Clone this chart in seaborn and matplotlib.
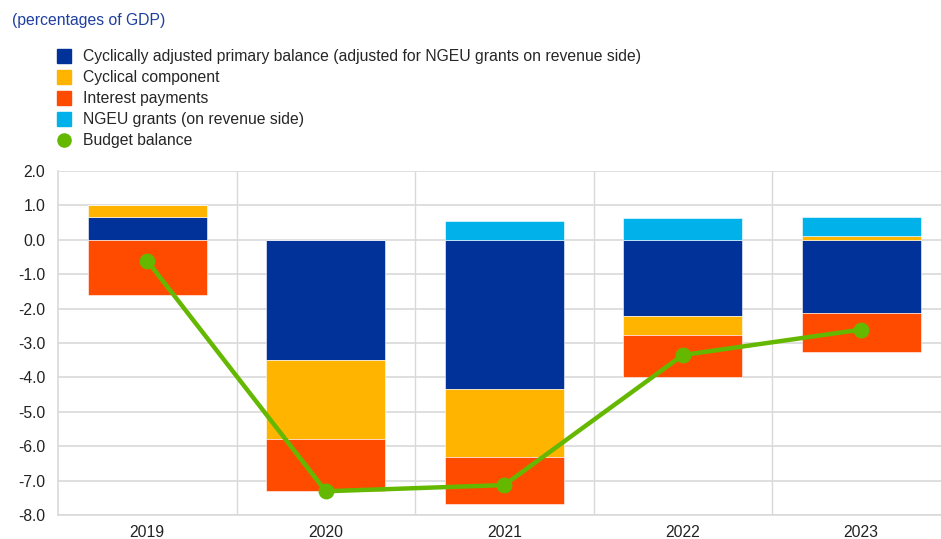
import numpy as np
import pandas as pd
import matplotlib
matplotlib.use("Agg")
import matplotlib.pyplot as plt
from matplotlib.lines import Line2D
import seaborn as sns

years = ["2019", "2020", "2021", "2022", "2023"]
cyc_adj_primary = [0.65, -3.49, -4.35, -2.22, -2.12]
cyclical = [0.36, -2.30, -1.95, -0.55, 0.11]
interest = [-1.61, -1.52, -1.37, -1.22, -1.15]
ngeu = [0.0, 0.0, 0.56, 0.64, 0.56]
budget_balance = [-0.61, -7.31, -7.13, -3.35, -2.61]

series_names = [
    "Cyclically adjusted primary balance (adjusted for NGEU grants on revenue side)",
    "Cyclical component",
    "Interest payments",
    "NGEU grants (on revenue side)",
]
series_vals = [cyc_adj_primary, cyclical, interest, ngeu]
colors = ["#003299", "#FFB400", "#FF4B00", "#00B1EA"]
green = "#65B800"

sns.set_theme(style="white")
plt.rcParams["font.family"] = ["Liberation Sans", "DejaVu Sans"]
plt.rcParams["axes.unicode_minus"] = False

FS = 11.3

fig = plt.figure(figsize=(9.41, 5.39), dpi=100)
ax = fig.add_axes([58 / 941, 1 - 515 / 539, 892.5 / 941, 344 / 539])

pos_base = np.zeros(len(years))
neg_base = np.zeros(len(years))
for name, vals, col in zip(series_names, series_vals, colors):
    v = np.array(vals, dtype=float)
    bottoms = np.where(v >= 0, pos_base, neg_base)
    df = pd.DataFrame({"year": years, "value": v})
    sns.barplot(data=df, x="year", y="value", order=years, bottom=bottoms,
                color=col, saturation=1, width=0.667, errorbar=None,
                edgecolor="white", linewidth=0.4, ax=ax, zorder=2)
    pos_base = pos_base + np.where(v >= 0, v, 0)
    neg_base = neg_base + np.where(v < 0, v, 0)

dfb = pd.DataFrame({"year": years, "value": budget_balance})
sns.pointplot(data=dfb, x="year", y="value", order=years, color=green,
              errorbar=None, markers="o", markersize=9, linewidth=3.2,
              ax=ax, zorder=5)

ax.set_xlim(-0.5, 4.5)
ax.set_ylim(-8.0, 2.0)
ax.set_yticks(np.arange(-8, 2.01, 1.0))
ax.set_yticklabels([f"{t:.1f}" for t in np.arange(-8, 2.01, 1.0)])
ax.set_xticks(range(len(years)))
ax.set_xticklabels(years)
ax.set_xticks(np.arange(0.5, 4.0, 1.0), minor=True)
ax.set_xlabel("")
ax.set_ylabel("")
ax.grid(axis="y", which="major", color="#d9d9d9", linewidth=1.2, zorder=0)
ax.grid(axis="x", which="minor", color="#d9d9d9", linewidth=1.0, zorder=0)
ax.grid(axis="x", which="major", visible=False)
ax.set_axisbelow(True)
for s in ["top", "right"]:
    ax.spines[s].set_visible(False)
for s in ["left", "bottom"]:
    ax.spines[s].set_color("#d9d9d9")
    ax.spines[s].set_linewidth(1.2)
ax.tick_params(axis="both", which="both", length=0, labelsize=FS,
               colors="#222222")
ax.tick_params(axis="y", pad=9)
ax.tick_params(axis="x", pad=7)

handles = [Line2D([0], [0], marker="s", linestyle="none", markersize=9.5,
                  markerfacecolor=c, markeredgecolor=c) for c in colors]
handles.append(Line2D([0], [0], marker="o", linestyle="none", markersize=9.5,
                      markerfacecolor=green, markeredgecolor=green))
labels = series_names + ["Budget balance"]
fig.legend(handles, labels, loc="upper left",
           bbox_to_anchor=(56 / 941, 1 - 49 / 539), frameon=False,
           fontsize=FS, handlelength=1.0, handletextpad=0.75,
           labelspacing=0.39, borderpad=0, borderaxespad=0)

fig.text(12 / 941, 1 - 21 / 539, "(percentages of GDP)", color="#1f3f9f",
         fontsize=FS, va="center", ha="left")

fig.savefig("out.png", dpi=100)
